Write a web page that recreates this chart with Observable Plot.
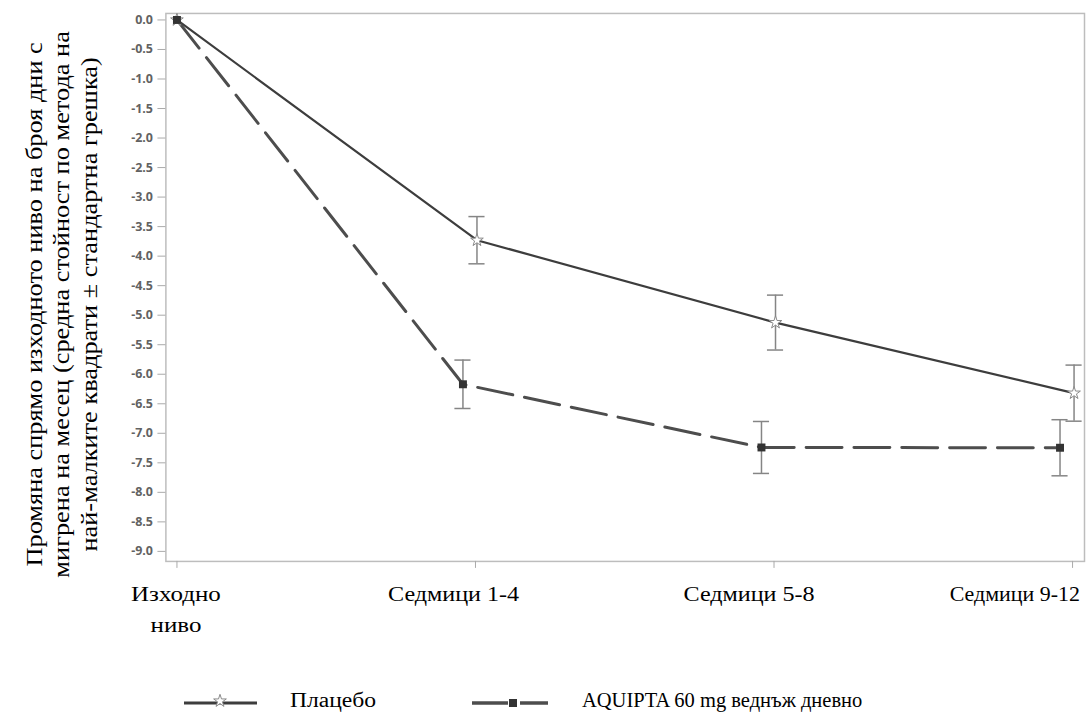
<!DOCTYPE html>
<html>
<head>
<meta charset="utf-8">
<script src="https://cdn.jsdelivr.net/npm/d3@7"></script>
<script src="https://cdn.jsdelivr.net/npm/@observablehq/plot@0.6"></script>
<style>
  html, body { margin: 0; padding: 0; background: #fff; overflow: hidden; }
  #chart { position: relative; width: 1086px; }
  #legend { position: relative; width: 1086px; height: 67px; font-family: "Liberation Serif", serif; font-size: 20.5px; color: #000; }
  #legend .lab { position: absolute; top: 40px; line-height: 24px; white-space: nowrap; }
  #legend svg { position: absolute; left: 0; top: 0; }
</style>
</head>
<body>
<div id="chart"></div>
<div id="legend"></div>
<script>
// ---- data ----
const periods = ["Изходно\nниво", "Седмици 1-4", "Седмици 5-8", "Седмици 9-12"];
const placeboMean = [0, -3.73, -5.125, -6.32];
const placeboSE   = [0, 0.40, 0.465, 0.475];
const aquiptaMean = [0, -6.17, -7.24, -7.245];
const aquiptaSE   = [0, 0.41, 0.44, 0.475];
const yTicks = [0, -0.5, -1, -1.5, -2, -2.5, -3, -3.5, -4, -4.5, -5, -5.5, -6, -6.5, -7, -7.5, -8, -8.5, -9];
const seriesNames = ["Плацебо", "AQUIPTA 60 mg веднъж дневно"];
const yTitle = "Промяна спрямо изходното ниво на броя дни с\nмигрена на месец (средна стойност по метода на\nнай-малките квадрати ± стандартна грешка)";

// ---- style settings ----
const labelDx = [-1, -22, -25, -58];   // pixel nudges of the category labels, as in the original
const labelStretch = [1.14, 1.1, 1.1, 1.0];
const dodge = {placebo: 0.005, aquipta: -0.042};
const cap = 0.027;
const lineP = "#3d3d3d", lineA = "#4d4d4d", errC = "#858585";

function rows(means, ses, d) {
  return means.map((m, i) => ({i, xp: i + (i > 0 ? d : 0), mean: m, se: ses[i]}));
}
const placebo = rows(placeboMean, placeboSE, dodge.placebo);
const aquipta = rows(aquiptaMean, aquiptaSE, dodge.aquipta);
const errs = [...placebo, ...aquipta].filter(d => d.se > 0);

const plot = Plot.plot({
  width: 1090,
  height: 650,
  marginLeft: 166,
  marginRight: 2,
  marginTop: 13,
  marginBottom: 87,
  style: {background: "white", overflow: "visible"},
  x: {type: "linear", domain: [-0.037, 3.04], axis: null},
  y: {domain: [-9.17, 0.11], axis: null},
  marks: [
    Plot.frame({stroke: "#bdbdbd", strokeWidth: 1.5}),
    Plot.axisY(yTicks, {tickSize: 8, tickPadding: 5, tickFormat: d => d.toFixed(1), fontSize: 12.5, fontWeight: "bold", fontFamily: "Open Sans, DejaVu Sans, sans-serif", color: "#626262", stroke: "#aaa", label: null}),
    Plot.axisX([0, 1, 2, 3], {tickSize: 7, tickFormat: () => "", stroke: "#aaa", label: null}),
    ...periods.map((p, i) => Plot.text([{i, p}], {x: "i", text: "p", frameAnchor: "bottom", dx: labelDx[i], dy: 18, lineAnchor: "top", textAnchor: "middle", fontSize: 22, fontFamily: "Liberation Serif, serif", lineHeight: 1.41, fill: "#000"})),
    Plot.text([yTitle], {frameAnchor: "left", dx: -106, dy: 17, rotate: -90, fontSize: 23, fontFamily: "Liberation Serif, serif", lineHeight: 1.2, textAnchor: "middle", lineAnchor: "middle", fill: "#000"}),
    Plot.ruleX(errs, {x: "xp", y1: d => d.mean - d.se, y2: d => d.mean + d.se, stroke: errC, strokeWidth: 1.5}),
    Plot.ruleY(errs, {x1: d => d.xp - cap, x2: d => d.xp + cap, y: d => d.mean - d.se, stroke: errC, strokeWidth: 1.5}),
    Plot.ruleY(errs, {x1: d => d.xp - cap, x2: d => d.xp + cap, y: d => d.mean + d.se, stroke: errC, strokeWidth: 1.5}),
    Plot.line(placebo, {x: "xp", y: "mean", stroke: lineP, strokeWidth: 2.2}),
    Plot.line(aquipta, {x: "xp", y: "mean", stroke: lineA, strokeWidth: 3, strokeDasharray: "36,12"}),
    Plot.dot(placebo, {x: "xp", y: "mean", symbol: "star", r: 4, stroke: "#8a8a8a", strokeWidth: 1, fill: "white"}),
    Plot.dot(aquipta, {x: "xp", y: "mean", symbol: "square", r: 4.5, fill: "#333", stroke: "none"})
  ]
});
// widen the serif Cyrillic texts a little (the original's serif Cyrillic is wider)
plot.querySelectorAll("text").forEach(t => {
  const tr = t.getAttribute("transform") || "";
  if (tr.includes("rotate(-90)")) { t.setAttribute("transform", tr + " scale(1.15,1)"); return; }
  const k = periods.findIndex(p => p.replace("\n", "") === t.textContent);
  if (k >= 0 && labelStretch[k] !== 1) t.setAttribute("transform", tr + ` scale(${labelStretch[k]},1)`);
});
document.getElementById("chart").appendChild(plot);

// ---- legend ----
const leg = d3.select("#legend");
const svg = leg.append("svg").attr("width", 1086).attr("height", 67);
svg.append("line").attr("x1", 184).attr("x2", 257).attr("y1", 55).attr("y2", 55).attr("stroke", lineP).attr("stroke-width", 3);
svg.append("path").attr("d", d3.symbol(d3.symbolStar, 50)()).attr("transform", "translate(220,53)").attr("fill", "white").attr("stroke", "#8a8a8a");
leg.append("div").attr("class", "lab").style("left", "290px").style("transform", "scaleX(1.15)").style("transform-origin", "left").text(seriesNames[0]);
svg.append("line").attr("x1", 472).attr("x2", 548).attr("y1", 55).attr("y2", 55).attr("stroke", lineA).attr("stroke-width", 3.5).attr("stroke-dasharray", "36,12");
svg.append("path").attr("d", d3.symbol(d3.symbolSquare, 64)()).attr("transform", "translate(513,55)").attr("fill", "#333");
leg.append("div").attr("class", "lab").style("left", "582px").text(seriesNames[1]);
</script>
</body>
</html>
